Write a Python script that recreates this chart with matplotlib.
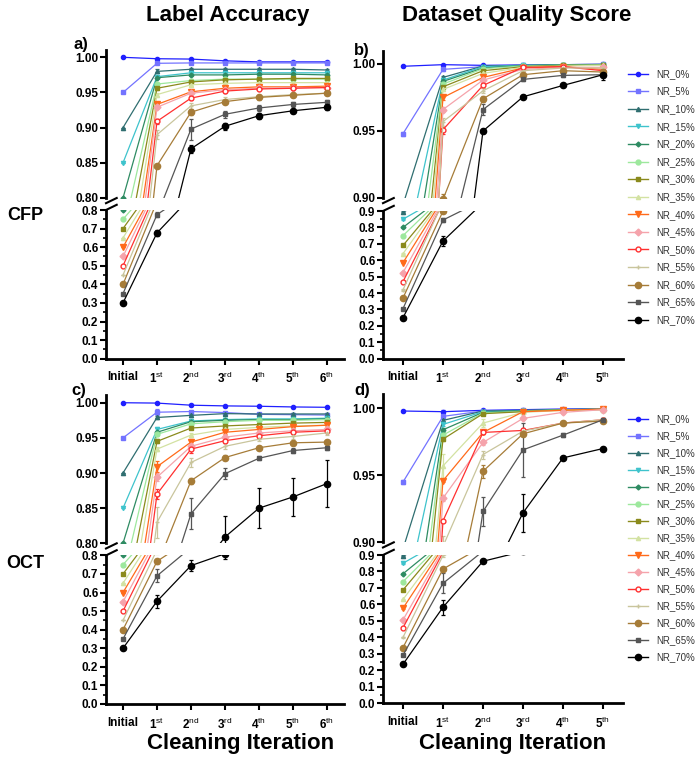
import numpy as np
import matplotlib
matplotlib.use('Agg')
import matplotlib.pyplot as plt
from matplotlib.lines import Line2D

plt.rcParams['font.family'] = ['Liberation Sans', 'DejaVu Sans']
plt.rcParams['mathtext.fontset'] = 'custom'
plt.rcParams['mathtext.rm'] = 'Liberation Sans'
plt.rcParams['mathtext.it'] = 'Liberation Sans:italic'
plt.rcParams['mathtext.bf'] = 'Liberation Sans:bold'

series = ['NR_0%', 'NR_5%', 'NR_10%', 'NR_15%', 'NR_20%', 'NR_25%', 'NR_30%', 'NR_35%',
          'NR_40%', 'NR_45%', 'NR_50%', 'NR_55%', 'NR_60%', 'NR_65%', 'NR_70%']
steps_6 = ['Initial', r'1$^{\rm st}$', r'2$^{\rm nd}$', r'3$^{\rm rd}$', r'4$^{\rm th}$', r'5$^{\rm th}$', r'6$^{\rm th}$']
steps_5 = steps_6[:6]

# label accuracy, CFP (Initial, 1st..6th)
acc_cfp = [
    [1.000, 0.998, 0.9975, 0.995, 0.9935, 0.9935, 0.9935],
    [0.950, 0.9915, 0.992, 0.992, 0.992, 0.992, 0.992],
    [0.900, 0.980, 0.983, 0.983, 0.983, 0.983, 0.982],
    [0.850, 0.9725, 0.978, 0.978, 0.978, 0.978, 0.978],
    [0.800, 0.971, 0.975, 0.975, 0.976, 0.976, 0.975],
    [0.750, 0.962, 0.967, 0.969, 0.969, 0.969, 0.969],
    [0.700, 0.956, 0.965, 0.968, 0.969, 0.970, 0.970],
    [0.650, 0.947, 0.961, 0.963, 0.964, 0.964, 0.964],
    [0.600, 0.933, 0.951, 0.956, 0.958, 0.958, 0.959],
    [0.550, 0.929, 0.949, 0.954, 0.956, 0.957, 0.957],
    [0.500, 0.909, 0.942, 0.952, 0.955, 0.956, 0.957],
    [0.450, 0.890, 0.931, 0.940, 0.944, 0.947, 0.949],
    [0.400, 0.846, 0.922, 0.937, 0.943, 0.946, 0.949],
    [0.350, 0.775, 0.898, 0.919, 0.928, 0.933, 0.936],
    [0.300, 0.677, 0.870, 0.902, 0.917, 0.924, 0.929],
]
acc_cfp_err = [
    [0, 0.0005, 0.0008, 0.0008, 0.0008, 0.0008, 0.0008],
    [0, 0.001, 0.001, 0.001, 0.001, 0.001, 0.001],
    [0, 0.003, 0.002, 0.002, 0.002, 0.002, 0.002],
    [0, 0.002, 0.002, 0.002, 0.002, 0.002, 0.002],
    [0, 0.002, 0.002, 0.002, 0.002, 0.002, 0.002],
    [0, 0.002, 0.002, 0.002, 0.002, 0.002, 0.002],
    [0, 0.002, 0.002, 0.002, 0.002, 0.002, 0.002],
    [0, 0.002, 0.002, 0.002, 0.002, 0.002, 0.002],
    [0, 0.003, 0.003, 0.002, 0.002, 0.002, 0.002],
    [0, 0.003, 0.002, 0.002, 0.002, 0.002, 0.002],
    [0, 0.004, 0.003, 0.003, 0.002, 0.002, 0.002],
    [0, 0.006, 0.004, 0.003, 0.003, 0.002, 0.002],
    [0, 0.003, 0.004, 0.003, 0.003, 0.003, 0.003],
    [0, 0.012, 0.015, 0.005, 0.004, 0.003, 0.003],
    [0, 0.015, 0.006, 0.005, 0.004, 0.003, 0.004],
]

# dataset quality score, CFP (Initial, 1st..5th)
dqs_cfp = [
    [0.9983, 0.9995, 0.999, 0.9993, 0.9995, 0.9997],
    [0.948, 0.996, 0.998, 0.999, 0.9995, 0.9998],
    [0.895, 0.990, 0.9985, 0.999, 0.9995, 0.9997],
    [0.850, 0.988, 0.998, 0.999, 0.9993, 0.9996],
    [0.800, 0.987, 0.997, 0.9988, 0.9993, 0.9995],
    [0.750, 0.985, 0.9965, 0.9985, 0.999, 0.9993],
    [0.690, 0.983, 0.995, 0.998, 0.999, 0.999],
    [0.640, 0.981, 0.993, 0.9975, 0.9985, 0.999],
    [0.585, 0.975, 0.990, 0.997, 0.998, 0.996],
    [0.525, 0.966, 0.988, 0.996, 0.9975, 0.9975],
    [0.470, 0.951, 0.984, 0.9975, 0.998, 0.995],
    [0.420, 0.957, 0.980, 0.995, 0.997, 0.997],
    [0.370, 0.899, 0.974, 0.992, 0.995, 0.994],
    [0.305, 0.845, 0.966, 0.9885, 0.9915, 0.992],
    [0.250, 0.717, 0.950, 0.9755, 0.984, 0.992],
]
dqs_cfp_err = [
    [0.0003, 0.0003, 0.0005, 0.0003, 0.0003, 0.0003],
    [0.0015, 0.001, 0.0005, 0.0003, 0.0003, 0.0003],
    [0.003, 0.001, 0.0005, 0.0005, 0.0003, 0.0003],
    [0.003, 0.001, 0.0005, 0.0005, 0.0003, 0.0003],
    [0.003, 0.001, 0.0008, 0.0005, 0.0005, 0.0005],
    [0.003, 0.001, 0.0008, 0.0005, 0.0005, 0.0005],
    [0.003, 0.0015, 0.001, 0.0005, 0.0005, 0.0005],
    [0.003, 0.0015, 0.001, 0.0008, 0.0005, 0.0005],
    [0.004, 0.002, 0.001, 0.001, 0.0008, 0.001],
    [0.004, 0.002, 0.001, 0.001, 0.0008, 0.001],
    [0.005, 0.003, 0.002, 0.001, 0.001, 0.001],
    [0.005, 0.003, 0.002, 0.001, 0.001, 0.001],
    [0.005, 0.004, 0.002, 0.001, 0.001, 0.001],
    [0.005, 0.015, 0.004, 0.001, 0.0015, 0.002],
    [0.005, 0.03, 0.0015, 0.001, 0.0008, 0.004],
]

# label accuracy, OCT (Initial, 1st..6th)
acc_oct = [
    [1.000, 0.9995, 0.9965, 0.9955, 0.995, 0.994, 0.9935],
    [0.950, 0.9865, 0.9875, 0.986, 0.9835, 0.983, 0.9825],
    [0.900, 0.979, 0.982, 0.9845, 0.984, 0.984, 0.984],
    [0.850, 0.962, 0.974, 0.976, 0.977, 0.977, 0.978],
    [0.800, 0.958, 0.973, 0.975, 0.976, 0.976, 0.977],
    [0.750, 0.955, 0.970, 0.973, 0.975, 0.975, 0.976],
    [0.700, 0.945, 0.964, 0.967, 0.969, 0.971, 0.972],
    [0.650, 0.934, 0.954, 0.962, 0.965, 0.967, 0.968],
    [0.600, 0.909, 0.944, 0.958, 0.962, 0.966, 0.968],
    [0.550, 0.894, 0.938, 0.951, 0.957, 0.960, 0.962],
    [0.500, 0.870, 0.934, 0.946, 0.953, 0.958, 0.960],
    [0.450, 0.830, 0.915, 0.938, 0.948, 0.952, 0.957],
    [0.400, 0.768, 0.889, 0.922, 0.936, 0.943, 0.944],
    [0.350, 0.690, 0.842, 0.899, 0.921, 0.932, 0.936],
    [0.300, 0.553, 0.745, 0.809, 0.850, 0.866, 0.885],
]
acc_oct_err = [
    [0, 0.0005, 0.001, 0.001, 0.001, 0.001, 0.001],
    [0, 0.004, 0.001, 0.001, 0.001, 0.001, 0.001],
    [0, 0.002, 0.002, 0.002, 0.002, 0.002, 0.002],
    [0, 0.002, 0.002, 0.002, 0.002, 0.002, 0.002],
    [0, 0.002, 0.002, 0.002, 0.002, 0.002, 0.002],
    [0, 0.002, 0.002, 0.002, 0.002, 0.002, 0.002],
    [0, 0.003, 0.002, 0.002, 0.002, 0.002, 0.002],
    [0, 0.003, 0.003, 0.002, 0.002, 0.002, 0.002],
    [0, 0.008, 0.004, 0.003, 0.003, 0.003, 0.003],
    [0, 0.006, 0.003, 0.003, 0.003, 0.003, 0.003],
    [0, 0.007, 0.005, 0.004, 0.003, 0.003, 0.003],
    [0, 0.022, 0.006, 0.004, 0.003, 0.003, 0.003],
    [0, 0.012, 0.004, 0.004, 0.003, 0.003, 0.003],
    [0, 0.035, 0.022, 0.008, 0.003, 0.004, 0.003],
    [0, 0.036, 0.030, 0.030, 0.028, 0.027, 0.033],
]

# dataset quality score, OCT (Initial, 1st..5th)
dqs_oct = [
    [0.998, 0.9975, 0.9985, 0.999, 0.9995, 0.9997],
    [0.945, 0.994, 0.998, 0.9985, 0.999, 0.9995],
    [0.895, 0.991, 0.998, 0.9985, 0.999, 0.9995],
    [0.850, 0.988, 0.9975, 0.998, 0.999, 0.9993],
    [0.786, 0.984, 0.997, 0.998, 0.999, 0.9993],
    [0.738, 0.980, 0.9965, 0.9978, 0.9988, 0.9993],
    [0.688, 0.977, 0.996, 0.9975, 0.9988, 0.999],
    [0.630, 0.957, 0.989, 0.997, 0.9985, 0.999],
    [0.577, 0.946, 0.982, 0.9975, 0.9985, 0.9995],
    [0.506, 0.933, 0.9745, 0.9925, 0.997, 0.999],
    [0.458, 0.916, 0.982, 0.9835, 0.989, 0.9915],
    [0.400, 0.897, 0.9655, 0.983, 0.989, 0.9915],
    [0.338, 0.815, 0.953, 0.981, 0.989, 0.9905],
    [0.292, 0.728, 0.923, 0.969, 0.980, 0.9915],
    [0.237, 0.583, 0.862, 0.922, 0.963, 0.970],
]
dqs_oct_err = [
    [0.0006, 0.001, 0.0005, 0.0005, 0.0005, 0.0003],
    [0.0015, 0.001, 0.0005, 0.0005, 0.0005, 0.0003],
    [0.003, 0.001, 0.0005, 0.0005, 0.0005, 0.0003],
    [0.003, 0.001, 0.0005, 0.0005, 0.0005, 0.0003],
    [0.003, 0.0015, 0.0008, 0.0005, 0.0005, 0.0005],
    [0.003, 0.0015, 0.0008, 0.0005, 0.0005, 0.0005],
    [0.003, 0.0015, 0.001, 0.0005, 0.0005, 0.0005],
    [0.005, 0.009, 0.003, 0.001, 0.001, 0.001],
    [0.005, 0.001, 0.001, 0.001, 0.001, 0.001],
    [0.005, 0.002, 0.002, 0.001, 0.001, 0.001],
    [0.005, 0.001, 0.001, 0.001, 0.001, 0.001],
    [0.005, 0.008, 0.003, 0.002, 0.001, 0.001],
    [0.005, 0.010, 0.005, 0.002, 0.001, 0.001],
    [0.005, 0.060, 0.011, 0.020, 0.0015, 0.001],
    [0.005, 0.045, 0.006, 0.014, 0.001, 0.0012],
]

colors = ['#1f1fff', '#7373ff', '#2f6e70', '#3ec3cc', '#2e8b62', '#9de89d', '#8a8a1c', '#d3e2a2',
          '#ff6a1a', '#f5a3ab', '#ff3030', '#c9c59c', '#a67c38', '#555555', '#000000']
markers = ['o', 's', '^', 'v', 'D', 'o', 's', '^', 'v', 'D', 'o', '+', 'o', 's', 'o']
msizes = [3, 3, 3, 3, 2.5, 3.5, 3.5, 3, 4.5, 3.5, 3.5, 3, 4.5, 3, 4.5]

fig = plt.figure(figsize=(7, 7.6), dpi=100)
W, H = 700.0, 760.0


def rect(x0, x1, ytop, ybot):
    return [x0 / W, 1 - ybot / H, (x1 - x0) / W, (ybot - ytop) / H]


def style(ax):
    for s in ['top', 'right']:
        ax.spines[s].set_visible(False)
    ax.spines['left'].set_linewidth(2)
    ax.spines['bottom'].set_linewidth(2)
    ax.tick_params(axis='y', width=1.5, length=4, labelsize=8.5, pad=1.5)
    ax.tick_params(axis='y', which='minor', width=1.2, length=2.5)
    for t in ax.get_yticklabels():
        t.set_fontweight('bold')


def draw(ax, vals, errs):
    x = np.arange(len(vals[0]))
    for i in range(len(series)):
        mfc = 'white' if series[i] == 'NR_50%' else colors[i]
        ax.errorbar(x, vals[i], yerr=errs[i], color=colors[i], marker=markers[i], ms=msizes[i],
                    mfc=mfc, mec=colors[i], lw=0.9, elinewidth=0.9, capsize=1.5, capthick=0.9)
    ax.set_xlim(-0.5, len(x) - 0.5)


def panel(x0, x1, top_box, bot_box, vals, errs, lim_t, lim_b, ticks_t, ticks_b, labels):
    ax_t = fig.add_axes(rect(x0, x1, *top_box))
    ax_b = fig.add_axes(rect(x0, x1, *bot_box))
    draw(ax_t, vals, errs)
    draw(ax_b, vals, errs)
    ax_t.set_ylim(*lim_t)
    ax_b.set_ylim(*lim_b)
    ax_t.set_yticks(ticks_t)
    ax_t.set_yticklabels(['%.2f' % v for v in ticks_t])
    ax_b.set_yticks(ticks_b)
    ax_b.set_yticklabels(['%.1f' % v for v in ticks_b])
    ax_b.set_yticks(np.arange(0.05, lim_b[1], 0.1), minor=True)
    style(ax_t)
    style(ax_b)
    ax_t.spines['bottom'].set_visible(False)
    ax_t.set_xticks([])
    ax_b.set_xticks(np.arange(len(labels)))
    ax_b.set_xticklabels(labels, fontsize=8.5, fontweight='bold')
    ax_b.tick_params(axis='x', width=1.5, length=4, pad=5)
    # break marks on the left spine
    kw = dict(color='k', lw=1.5, clip_on=False)
    ax_t.plot([-0.0, 0.045], [-0.035, 0.0], transform=ax_t.transAxes, **kw)
    ax_b.plot([-0.0, 0.045], [1.0, 1.035], transform=ax_b.transAxes, **kw)
    return ax_t, ax_b


panel(106, 344, (50, 198), (210, 358.7), acc_cfp, acc_cfp_err, (0.80, 1.0104), (0.0, 0.8),
      [0.80, 0.85, 0.90, 0.95, 1.00], np.arange(0, 0.81, 0.1), steps_6)
panel(383, 623, (51, 198), (211, 358.7), dqs_cfp, dqs_cfp_err, (0.90, 1.0097), (0.0, 0.9),
      [0.90, 0.95, 1.00], np.arange(0, 0.91, 0.1), steps_5)
panel(106, 344, (395, 543.3), (555.4, 704), acc_oct, acc_oct_err, (0.80, 1.011), (0.0, 0.8),
      [0.80, 0.85, 0.90, 0.95, 1.00], np.arange(0, 0.81, 0.1), steps_6)
panel(383, 623, (394, 542.3), (555, 703.3), dqs_oct, dqs_oct_err, (0.90, 1.0107), (0.0, 0.9),
      [0.90, 0.95, 1.00], np.arange(0, 0.91, 0.1), steps_5)

# legends
handles = []
for i in range(len(series)):
    mfc = 'white' if series[i] == 'NR_50%' else colors[i]
    handles.append(Line2D([], [], color=colors[i], marker=markers[i], ms=msizes[i], mfc=mfc,
                          mec=colors[i], lw=1.0))
for ytop, sp in [(69, 0.78), (414, 0.72)]:
    fig.legend(handles, series, loc='upper left', bbox_to_anchor=(628 / W, 1 - ytop / H),
               frameon=False, fontsize=7, labelspacing=sp, handlelength=2.1, handletextpad=0.8,
               borderpad=0, borderaxespad=0, labelcolor='#333333')

# texts
fig.text(228 / W, 1 - 15 / H, 'Label Accuracy', ha='center', va='center', fontsize=16, fontweight='bold')
fig.text(517 / W, 1 - 15 / H, 'Dataset Quality Score', ha='center', va='center', fontsize=16, fontweight='bold')
fig.text(241 / W, 1 - 743 / H, 'Cleaning Iteration', ha='center', va='center', fontsize=16, fontweight='bold')
fig.text(513 / W, 1 - 743 / H, 'Cleaning Iteration', ha='center', va='center', fontsize=16, fontweight='bold')
fig.text(81 / W, 1 - 45 / H, 'a)', ha='center', va='center', fontsize=12, fontweight='bold')
fig.text(362 / W, 1 - 50 / H, 'b)', ha='center', va='center', fontsize=12, fontweight='bold')
fig.text(79 / W, 1 - 391 / H, 'c)', ha='center', va='center', fontsize=12, fontweight='bold')
fig.text(362 / W, 1 - 391 / H, 'd)', ha='center', va='center', fontsize=12, fontweight='bold')
fig.text(25 / W, 1 - 215 / H, 'CFP', ha='center', va='center', fontsize=13, fontweight='bold')
fig.text(25 / W, 1 - 564 / H, 'OCT', ha='center', va='center', fontsize=13, fontweight='bold')

fig.savefig('out.png', dpi=100)
